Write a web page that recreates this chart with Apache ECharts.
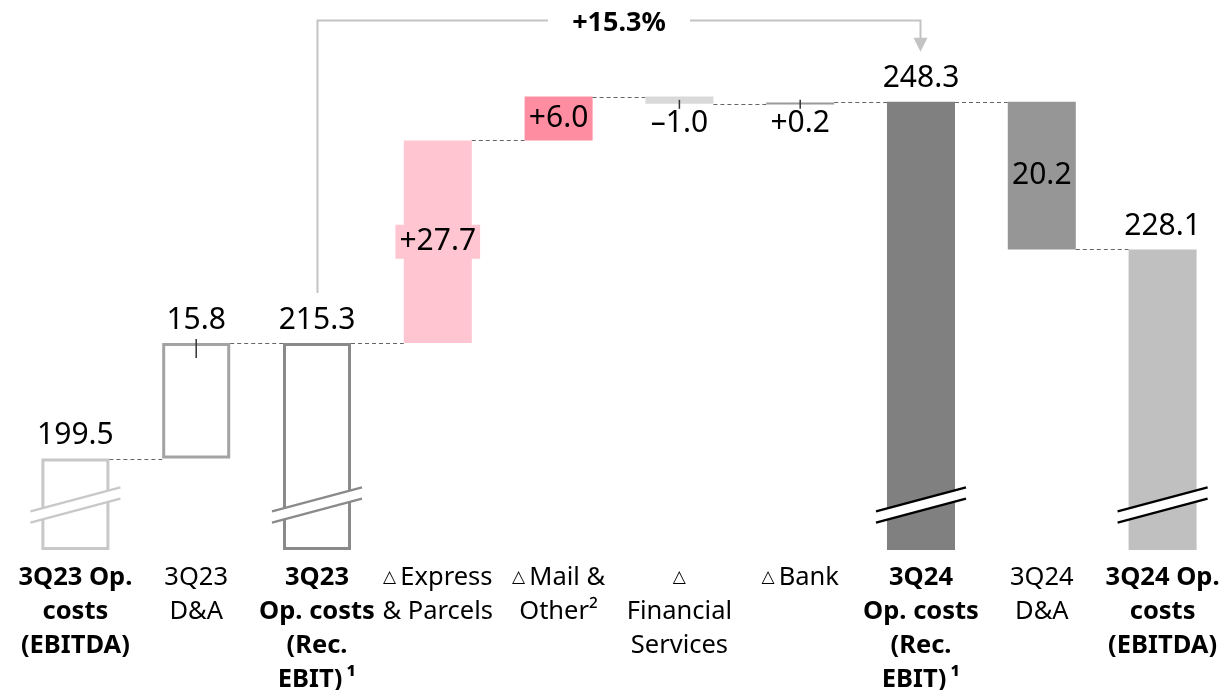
<!DOCTYPE html>
<html><head><meta charset="utf-8">
<script src="https://cdn.jsdelivr.net/npm/echarts@6/dist/echarts.min.js"></script>
<style>html,body{margin:0;padding:0;background:#fff}#c{width:1223px;height:690px}</style>
</head><body><div id="c"></div>
<script>
// ---- data ----
const categories = [
  '3Q23 Op.\ncosts\n(EBITDA)',
  '3Q23\nD&A',
  '3Q23\nOp. costs\n(Rec.\nEBIT)\u2009¹',
  '△ Express\n& Parcels',
  '△ Mail &\nOther²',
  '△\nFinancial\nServices',
  '△ Bank',
  '3Q24\nOp. costs\n(Rec.\nEBIT)\u2009¹',
  '3Q24\nD&A',
  '3Q24 Op.\ncosts\n(EBITDA)'
];
// null = bar starts at the (broken) axis bottom
const fromValues = [null, 199.5, null, 215.3, 243.0, 249.0, 248.0, null, 248.3, null];
const toValues   = [199.5, 215.3, 215.3, 243.0, 249.0, 248.0, 248.2, 248.3, 228.1, 228.1];
const valueLabels = ['199.5', '15.8', '215.3', '+27.7', '+6.0', '–1.0', '+0.2', '248.3', '20.2', '228.1'];
const growthLabel = '+15.3%';
const growthFromIndex = 2;
const growthToIndex = 7;
const Y_MIN = 187.0, Y_MAX = 262.2;

// ---- styles ----
const STYLE = [
  {outline: true, color: '#c8c8c8', brk: '#c8c8c8', label: 'above', bold: true},
  {outline: true, color: '#a3a3a3', label: 'above', tick: 'in'},
  {outline: true, color: '#8a8a8a', brk: '#8a8a8a', label: 'above', bold: true},
  {color: '#ffc5d0', label: 'mid', bg: '#ffc5d0'},
  {color: '#ff8da1', label: 'mid'},
  {color: '#d9d9d9', label: 'below'},
  {color: '#9a9a9a', label: 'below'},
  {color: '#808080', brk: '#000', label: 'above', bold: true},
  {color: '#969696', label: 'mid'},
  {color: '#c0c0c0', brk: '#000', label: 'above', bold: true}
];
const FONT = '"Noto Sans", "DejaVu Sans", sans-serif';
const VAL_FONT = '30px ' + FONT;

function renderBar(params, api) {
  const i = api.value(0);
  const st = STYLE[i];
  const from = api.value(1), to = api.value(2);
  const bandW = api.size([1, 0])[0];
  const bw = bandW * 0.563;
  const pTo = api.coord([i, to]);
  const pFrom = api.coord([i, from]);
  const cx = pTo[0];
  const top = Math.min(pTo[1], pFrom[1]);
  const bot = Math.max(pTo[1], pFrom[1]);
  const x0 = cx - bw / 2;
  const ch = [];
  if (st.outline) {
    ch.push({type: 'rect', shape: {x: x0 + 1.5, y: top + 1.5, width: bw - 3, height: bot - top - 3},
      style: {fill: '#fff', stroke: st.color, lineWidth: 3}});
  } else {
    ch.push({type: 'rect', shape: {x: x0, y: top, width: bw, height: Math.max(bot - top, 2)},
      style: {fill: st.color}});
  }
  if (st.brk) {
    const yc = bot - 45, hw = 45, dy = 12, g = 5.6;
    ch.push({type: 'polygon', shape: {points: [
      [cx - hw, yc - g + dy], [cx + hw, yc - g - dy], [cx + hw, yc + g - dy], [cx - hw, yc + g + dy]]},
      style: {fill: '#fff'}});
    ch.push({type: 'line', shape: {x1: cx - hw, y1: yc - g + dy, x2: cx + hw, y2: yc - g - dy},
      style: {stroke: st.brk, lineWidth: 2.2}});
    ch.push({type: 'line', shape: {x1: cx - hw, y1: yc + g + dy, x2: cx + hw, y2: yc + g - dy},
      style: {stroke: st.brk, lineWidth: 2.2}});
  }
  // connector to next bar
  if (i < categories.length - 1) {
    const nx = api.coord([i + 1, to])[0] - bw / 2;
    const y = Math.round(pTo[1]) + 0.5;
    ch.push({type: 'line', shape: {x1: x0 + bw, y1: y, x2: nx, y2: y},
      style: {stroke: '#666', lineWidth: 1, lineDash: [4, 3]}});
  }
  // label
  const txt = valueLabels[i];
  if (st.label === 'above') {
    ch.push({type: 'text', x: cx, y: top - 8,
      style: {text: txt, fill: '#000', font: VAL_FONT, align: 'center', verticalAlign: 'bottom'}});
    if (st.tick === 'in') {
      ch.push({type: 'line', shape: {x1: cx, y1: top - 4, x2: cx, y2: top + 15},
        style: {stroke: '#333', lineWidth: 1.5}});
    }
  } else if (st.label === 'below') {
    ch.push({type: 'line', shape: {x1: cx, y1: bot - 4, x2: cx, y2: bot + 5},
      style: {stroke: '#333', lineWidth: 1.5}});
    ch.push({type: 'text', x: cx, y: bot + 5,
      style: {text: txt, fill: '#000', font: VAL_FONT, align: 'center', verticalAlign: 'top'}});
  } else {
    const s = {text: txt, fill: '#000', font: VAL_FONT, align: 'center', verticalAlign: 'middle'};
    if (st.bg) { s.backgroundColor = st.bg; s.padding = [2, 4, 2, 4]; }
    ch.push({type: 'text', x: cx, y: (top + bot) / 2, style: s});
  }
  return {type: 'group', children: ch};
}

function renderGrowth(params, api) {
  const p1 = api.coord([api.value(0), api.value(1)]);
  const p2 = api.coord([api.value(2), api.value(3)]);
  const yh = params.coordSys.y + 20.5;
  const x1 = Math.round(p1[0]) + 0.5, x2 = Math.round(p2[0]) - 0.5;
  const mid = (x1 + x2) / 2, gap = 71;
  const col = '#c3c3c3';
  return {type: 'group', children: [
    {type: 'polyline', shape: {points: [[x1, p1[1] - 50], [x1, yh], [mid - gap, yh]]},
      style: {stroke: col, lineWidth: 2, fill: null}},
    {type: 'polyline', shape: {points: [[mid + gap, yh], [x2, yh], [x2, p2[1] - 63]]},
      style: {stroke: col, lineWidth: 2, fill: null}},
    {type: 'polygon', shape: {points: [[x2 - 7, p2[1] - 64], [x2 + 7, p2[1] - 64], [x2, p2[1] - 50]]},
      style: {fill: col}},
    {type: 'text', x: mid, y: yh + 3,
      style: {text: growthLabel, fill: '#000', font: 'bold 27px ' + FONT, align: 'center', verticalAlign: 'middle'}}
  ]};
}

function fmtCat(value, idx) {
  const st = STYLE[idx] || {};
  const key = st.bold ? 'b' : 'n';
  return value.split('\n').map(function (line) {
    if (line.charAt(0) === '△') {
      const rest = line.slice(1).trim();
      return '{t|△}' + (rest ? '{' + key + '|\u2009' + rest + '}' : '');
    }
    return '{' + key + '|' + line + '}';
  }).join('\n');
}

const chart = echarts.init(document.getElementById('c'));
chart.setOption({
  animation: false,
  backgroundColor: '#fff',
  grid: {left: 15, right: 0, top: 0, bottom: 140, containLabel: false, outerBoundsMode: 'none'},
  xAxis: {
    type: 'category', data: categories,
    axisLine: {show: false}, axisTick: {show: false}, splitLine: {show: false},
    axisLabel: {
      interval: 0, margin: 11, hideOverlap: false,
      formatter: fmtCat,
      color: '#000', fontSize: 25, lineHeight: 34, fontFamily: FONT,
      rich: {
        n: {fontSize: 25.5, lineHeight: 34, fontFamily: FONT, color: '#000'},
        b: {fontSize: 25.5, lineHeight: 34, fontFamily: FONT, fontWeight: 'bold', color: '#000'},
        t: {fontSize: 17, lineHeight: 34, fontFamily: '"DejaVu Sans", sans-serif', color: '#000'}
      }
    }
  },
  yAxis: {type: 'value', min: Y_MIN, max: Y_MAX, show: false},
  series: [
    {
      type: 'custom', clip: false,
      renderItem: renderBar,
      encode: {x: 0, y: [1, 2]},
      data: categories.map(function (c, i) {
        return [i, fromValues[i] == null ? Y_MIN : fromValues[i], toValues[i]];
      })
    },
    {
      type: 'custom', clip: false,
      renderItem: renderGrowth,
      encode: {x: [0, 2], y: [1, 3]},
      data: [[growthFromIndex, toValues[growthFromIndex], growthToIndex, toValues[growthToIndex]]]
    }
  ]
});
</script>
</body></html>
